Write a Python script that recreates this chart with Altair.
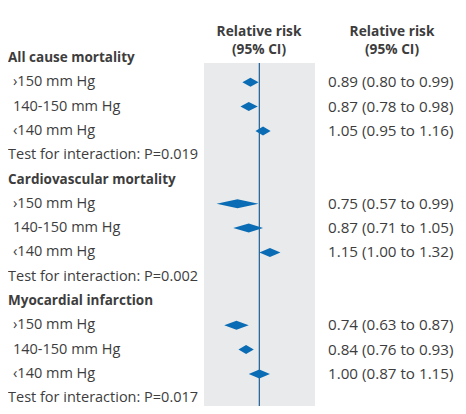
import altair as alt
import pandas as pd

groups = ["All cause mortality", "Cardiovascular mortality", "Myocardial infarction"]
subgroups = ["›150 mm Hg", "140-150 mm Hg", "‹140 mm Hg"]
est = [0.89, 0.87, 1.05, 0.75, 0.87, 1.15, 0.74, 0.84, 1.00]
lo = [0.80, 0.78, 0.95, 0.57, 0.71, 1.00, 0.63, 0.76, 0.87]
hi = [0.99, 0.98, 1.16, 0.99, 1.05, 1.32, 0.87, 0.93, 1.15]
p_values = ["0.019", "0.002", "0.017"]
x_domain = [0.483, 2.08]
null_value = [1.0]
header_lines = ["Relative risk", "(95% CI)"]

FONT = "Open Sans"
TXT = "#3d3d3d"
BLUE = "#0a6cb4"
LINE = "#1d5f92"
GRAY = "#e9eaeb"

rows = []
pts = []
r = 0
for g, grp in enumerate(groups):
    rows.append({"row": r, "label": grp, "kind": "group", "ci": ""})
    r += 1
    for s, sub in enumerate(subgroups):
        i = g * 3 + s
        ci = f"{est[i]:.2f} ({lo[i]:.2f} to {hi[i]:.2f})"
        rows.append({"row": r, "label": sub, "kind": "sub", "ci": ci})
        for xv, h in ((lo[i], 0), (est[i], 1), (hi[i], 0)):
            pts.append({"row": r, "x": xv, "half": h})
        r += 1
    rows.append({"row": r, "label": f"Test for interaction: P={p_values[g]}", "kind": "test", "ci": ""})
    r += 1

rows_df = pd.DataFrame(rows)
pts_df = pd.DataFrame(pts)
panel_df = pd.DataFrame({"x0": [x_domain[0]], "x1": [x_domain[1]]})
rule_df = pd.DataFrame({"x": null_value})
hdr_df = pd.DataFrame({"t": header_lines, "line": [0, 1]})

xscale = alt.Scale(type="log", domain=x_domain, range=[196, 307])
yscale = alt.Scale(domain=[0, 14], range=[50, 390.2], zero=False, nice=False)
hscale = alt.Scale(domain=[0, 1], range=[23.5, 41.5], zero=False, nice=False)

panel = alt.Chart(panel_df).mark_rect(color=GRAY).encode(
    x=alt.X("x0:Q", scale=xscale, axis=None), x2="x1:Q",
    y=alt.value(55), y2=alt.value(400),
)
rule = alt.Chart(rule_df).mark_rule(color=LINE, strokeWidth=1.2).encode(
    x=alt.X("x:Q", scale=xscale, axis=None), y=alt.value(55), y2=alt.value(400),
)
diam = alt.Chart(pts_df).transform_calculate(
    ytop="datum.row - datum.half * 0.185", ybot="datum.row + datum.half * 0.185"
).mark_area(color=BLUE, opacity=1).encode(
    x=alt.X("x:Q", scale=xscale, axis=None),
    y=alt.Y("ytop:Q", scale=yscale, axis=None),
    y2="ybot:Q",
    detail="row:N",
)

base_text = dict(font=FONT, color=TXT, baseline="middle", align="left")
grp_txt = alt.Chart(rows_df).transform_filter("datum.kind == 'group'").mark_text(
    fontWeight="bold", fontSize=13.5, **base_text).encode(
    x=alt.value(0), y=alt.Y("row:Q", scale=yscale, axis=None), text="label:N")
test_txt = alt.Chart(rows_df).transform_filter("datum.kind == 'test'").mark_text(
    fontSize=14.5, **base_text).encode(
    x=alt.value(0), y=alt.Y("row:Q", scale=yscale, axis=None), text="label:N")
sub_txt = alt.Chart(rows_df).transform_filter("datum.kind == 'sub'").mark_text(
    fontSize=14.5, **base_text).encode(
    x=alt.value(5), y=alt.Y("row:Q", scale=yscale, axis=None), text="label:N")
ci_txt = alt.Chart(rows_df).transform_filter("datum.kind == 'sub'").mark_text(
    fontSize=15.2, **base_text).encode(
    x=alt.value(320), y=alt.Y("row:Q", scale=yscale, axis=None), text="ci:N")

hdr_style = dict(font=FONT, fontSize=13.7, fontWeight="bold", color=TXT,
                 align="center", baseline="middle")
hdr1 = alt.Chart(hdr_df).mark_text(**hdr_style).encode(
    x=alt.value(251), y=alt.Y("line:Q", scale=hscale, axis=None), text="t:N")
hdr2 = alt.Chart(hdr_df).mark_text(**hdr_style).encode(
    x=alt.value(384), y=alt.Y("line:Q", scale=hscale, axis=None), text="t:N")

chart = alt.layer(panel, rule, diam, grp_txt, test_txt, sub_txt, ci_txt, hdr1, hdr2).resolve_scale(
    y="independent"
).properties(
    width=450, height=398, autosize=alt.AutoSizeParams(type="none"), padding=0
).configure_view(stroke=None)

chart.save("out.html", embed_options={"renderer": "svg", "actions": False})
